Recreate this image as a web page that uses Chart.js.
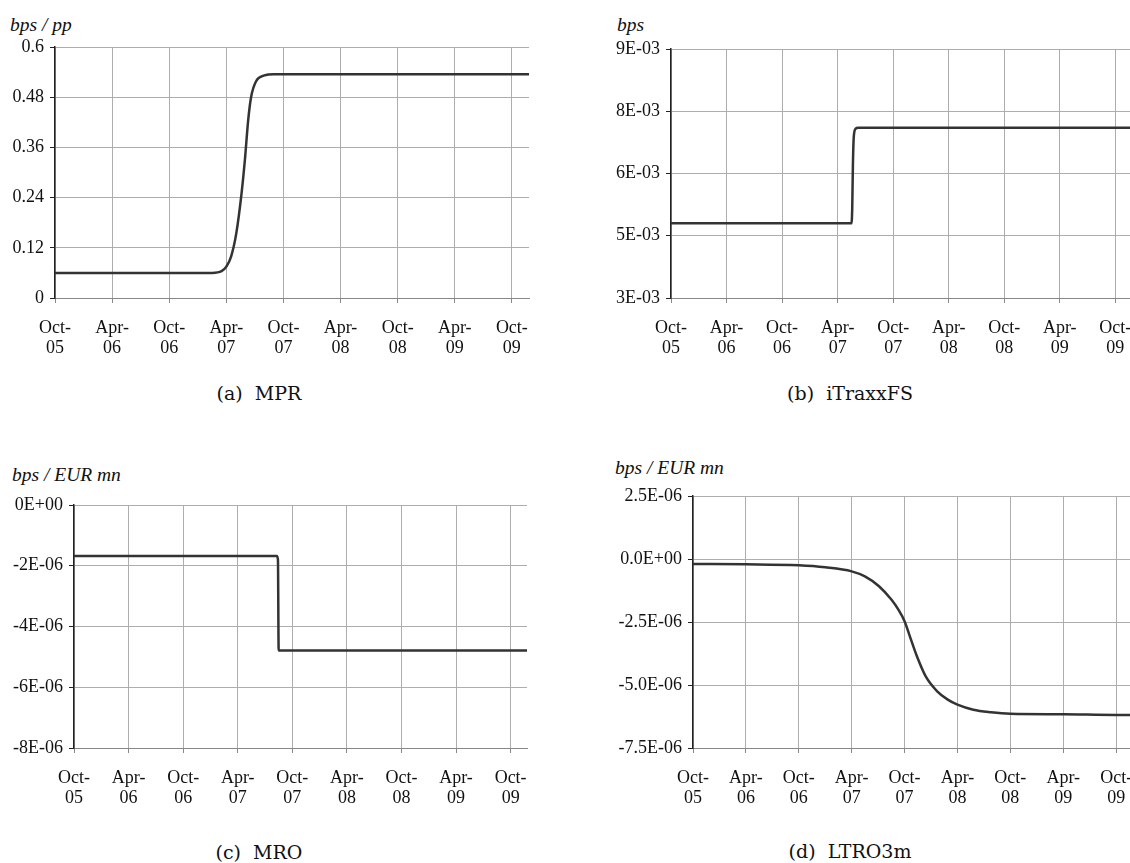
<!DOCTYPE html>
<html>
<head>
<meta charset="utf-8">
<script src="https://cdn.jsdelivr.net/npm/chart.js@4/dist/chart.umd.min.js"></script>
<style>
  body { margin: 0; width: 1130px; height: 863px; overflow: hidden; background: #fff; position: relative; }
  canvas { position: absolute; }
  .ttl { position: absolute; font-family: "Liberation Serif", "Times New Roman", serif; font-style: italic; font-size: 19.5px;
         color: #111; line-height: 22px; white-space: nowrap; }
  .cap { position: absolute; font-family: "DejaVu Serif", serif; font-size: 19px; color: #111; line-height: 22px;
         white-space: pre; transform: translateX(-50%); }
</style>
</head>
<body>
<div class="ttl" style="left:10px;top:14px">bps / pp</div>
<div class="ttl" style="left:617px;top:14px">bps</div>
<div class="ttl" style="left:12px;top:464px">bps / EUR mn</div>
<div class="ttl" style="left:615px;top:457px">bps / EUR mn</div>

<canvas id="cA"></canvas>
<canvas id="cB"></canvas>
<canvas id="cC"></canvas>
<canvas id="cD"></canvas>

<div class="cap" style="left:259px;top:382px">(a)  MPR</div>
<div class="cap" style="left:850px;top:382px">(b)  iTraxxFS</div>
<div class="cap" style="left:259px;top:841px">(c)  MRO</div>
<div class="cap" style="left:850px;top:840px">(d)  LTRO3m</div>

<script>
// x in months since Oct-05; semi-annual ticks
const xTickMonths = [0, 6, 12, 18, 24, 30, 36, 42, 48];
const xTickLabels = [["Oct-", "05"], ["Apr-", "06"], ["Oct-", "06"], ["Apr-", "07"], ["Oct-", "07"],
                     ["Apr-", "08"], ["Oct-", "08"], ["Apr-", "09"], ["Oct-", "09"]];
const X_MAX = 49.8;

// (a) MPR
const monthsA = [0, 16.5, 17.5, 18.0, 18.5, 19.05, 19.6, 19.95, 20.3, 20.6, 21.1, 22.0, 23.0, 49.8];
const valuesA = [0.06, 0.06, 0.064, 0.075, 0.099, 0.155, 0.25, 0.33, 0.426, 0.48, 0.517, 0.532, 0.535, 0.535];
const yTicksA = [0, 0.12, 0.24, 0.36, 0.48, 0.6];
const yLabelsA = ["0", "0.12", "0.24", "0.36", "0.48", "0.6"];

// (b) iTraxxFS
const monthsB = [0, 19.5, 19.58, 19.65, 19.75, 19.95, 20.2, 49.8];
const valuesB = [0.0048, 0.0048, 0.0052, 0.0062, 0.0069, 0.00708, 0.0071, 0.0071];
const yTicksB = [0.003, 0.0045, 0.006, 0.0075, 0.009];
const yLabelsB = ["3E-03", "5E-03", "6E-03", "8E-03", "9E-03"];

// (c) MRO
const monthsC = [0, 22.3, 22.42, 22.5, 49.8];
const valuesC = [-1.68e-6, -1.68e-6, -1.8e-6, -4.79e-6, -4.79e-6];
const yTicksC = [-8e-6, -6e-6, -4e-6, -2e-6, 0];
const yLabelsC = ["-8E-06", "-6E-06", "-4E-06", "-2E-06", "0E+00"];

// (d) LTRO3m
const monthsD = [0, 6, 12, 15, 18, 19.5, 21.1, 22.5, 23.3, 24, 24.6, 25.4, 26.4, 27.7, 28.9, 30, 31.8, 33.8, 36, 42, 48, 49.8];
const valuesD = [-0.20e-6, -0.21e-6, -0.25e-6, -0.33e-6, -0.49e-6, -0.69e-6, -1.08e-6, -1.61e-6, -2.01e-6, -2.47e-6,
                 -3.07e-6, -3.86e-6, -4.66e-6, -5.25e-6, -5.58e-6, -5.78e-6, -5.98e-6, -6.08e-6, -6.14e-6, -6.16e-6,
                 -6.19e-6, -6.19e-6];
const yTicksD = [-7.5e-6, -5e-6, -2.5e-6, 0, 2.5e-6];
const yLabelsD = ["-7.5E-06", "-5.0E-06", "-2.5E-06", "0.0E+00", "2.5E-06"];

const YW = 90, XH = 70, PT = 20, PR = 20;   // fixed axis sizes / padding
const tickFont = { family: '"Liberation Serif", "Times New Roman", serif', size: 18, lineHeight: 1.11 };

function makeChart(id, area, months, values, yTicks, yLabels) {
  const cv = document.getElementById(id);
  const left = area.l - YW, top = area.t - PT;
  cv.style.left = left + "px";
  cv.style.top = top + "px";
  cv.width = area.r - left + PR;
  cv.height = area.b - top + XH;

  return new Chart(cv, {
    type: "line",
    data: {
      datasets: [{
        data: months.map((m, i) => ({ x: m, y: values[i] })),
        borderColor: "#333", borderWidth: 2.5, pointRadius: 0,
        cubicInterpolationMode: "monotone", fill: false,
      }],
    },
    options: {
      responsive: false, animation: false, events: [],
      layout: { padding: { top: PT, right: PR, left: 0, bottom: 0 } },
      plugins: { legend: { display: false }, tooltip: { enabled: false } },
      scales: {
        x: {
          type: "linear", min: 0, max: X_MAX,
          afterBuildTicks: s => { s.ticks = xTickMonths.map(v => ({ value: v })); },
          afterFit: s => { s.height = XH; },
          grid: { color: "#adadad", tickColor: "#888", tickLength: 5 },
          border: { color: "#888", width: 1 },
          ticks: { font: tickFont, color: "#111", padding: 15, maxRotation: 0, autoSkip: false,
                   callback: (v, i) => xTickLabels[i] },
        },
        y: {
          min: yTicks[0], max: yTicks[yTicks.length - 1],
          afterBuildTicks: s => { s.ticks = yTicks.map(v => ({ value: v })); },
          afterFit: s => { s.width = YW; },
          grid: { color: "#adadad", tickColor: "#222", tickLength: 5 },
          border: { color: "#222", width: 1.5 },
          ticks: { font: tickFont, color: "#111", padding: 6, callback: (v, i) => yLabels[i] },
        },
      },
    },
  });
}

makeChart("cA", { l: 55, t: 47, r: 529, b: 298 }, monthsA, valuesA, yTicksA, yLabelsA);
makeChart("cB", { l: 671, t: 49, r: 1132, b: 298 }, monthsB, valuesB, yTicksB, yLabelsB);
makeChart("cC", { l: 74, t: 505, r: 527, b: 748 }, monthsC, valuesC, yTicksC, yLabelsC);
makeChart("cD", { l: 693, t: 496, r: 1132, b: 748 }, monthsD, valuesD, yTicksD, yLabelsD);
</script>
</body>
</html>
